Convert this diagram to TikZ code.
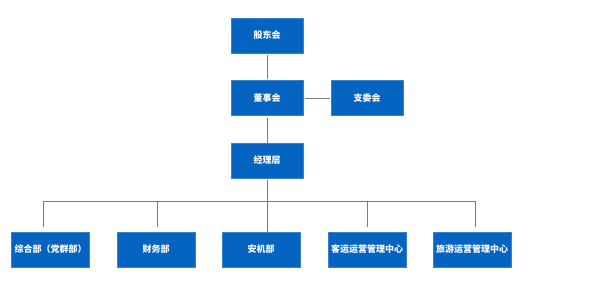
\documentclass[tikz,border=0pt]{standalone}
\usepackage{fontspec}
\newfontfamily\cjk{Noto Sans CJK SC}
\usepackage{xcolor}
\definecolor{orgblue}{HTML}{0563C1}
\definecolor{linkgray}{HTML}{7A7A7A}

\begin{document}
\begin{tikzpicture}[x=1pt, y=-1pt,
    orgbox/.style={rectangle, fill=orgblue, draw=orgblue!80!white, line width=0.4pt,
      minimum width=72pt, minimum height=35pt, inner sep=0pt,
      text=white, font=\cjk\bfseries\fontsize{9}{11}\selectfont},
    deptbox/.style={orgbox, minimum width=78pt},
    link/.style={draw=linkgray, line width=0.9pt}]

  \useasboundingbox (0,0) rectangle (599,285);

  % ==========================================
  % SECTION 1: Top levels
  % ==========================================
  \node[orgbox] (gudong) at (267,35.5) {股东会};
  \node[orgbox] (dongshi) at (267,98) {董事会};
  \node[orgbox] (zhiwei) at (367,98) {支委会};
  \node[orgbox] (jingli) at (267,160.5) {经理层};

  % Links between the top levels
  \draw[link, shorten <=2pt, shorten >=1pt] (gudong) -- (dongshi);
  \draw[link, shorten <=2pt, shorten >=1pt] (dongshi) -- (zhiwei);
  \draw[link, shorten <=2pt] (dongshi) -- (jingli);

  % ==========================================
  % SECTION 2: Departments
  % ==========================================
  \node[deptbox] (zonghe) at (50.5,249.5) {综合部（党群部）};
  \node[deptbox] (caiwu) at (156,249.5) {财务部};
  \node[deptbox] (anji) at (261,249.5) {安机部};
  \node[deptbox] (keyun) at (367,249.5) {客运运营管理中心};
  \node[deptbox] (lvyou) at (472,249.5) {旅游运营管理中心};

  % Bus and drops
  \coordinate (busL) at (43,201);
  \coordinate (busR) at (476,201);
  \coordinate (dropA) at (43,227);
  \coordinate (dropB) at (157,227);
  \coordinate (dropD) at (367,227);
  \coordinate (dropE) at (475,227);
  \draw[link, shorten <=2pt] (jingli.south) -- (jingli.south |- busL);
  \draw[link] (busL) -- (busR);
  \draw[link] (busL) -- (dropA);
  \draw[link] (dropB |- busL) -- (dropB);
  \draw[link] (jingli.south |- busL) -- (jingli.south |- anji.north);
  \draw[link] (dropD |- busL) -- (dropD);
  \draw[link] (dropE |- busL) -- (dropE);

\end{tikzpicture}
\end{document}
